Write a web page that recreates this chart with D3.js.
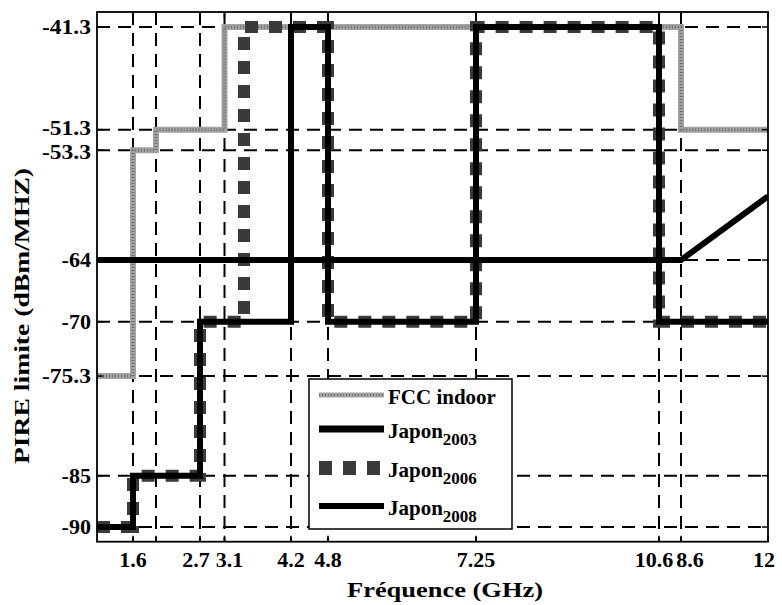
<!DOCTYPE html>
<html><head><meta charset="utf-8">
<script src="https://cdn.jsdelivr.net/npm/d3@7"></script>
<style>body{margin:0;background:#fff}svg{display:block}</style>
</head><body><svg id="c" width="782" height="605"></svg>
<script>
// ---- data ----
const xTickValues = [1.6, 1.99, 2.7, 3.1, 4.2, 4.8, 7.25, 10.6, 10.8, 12];
const xTickLabels = ["1.6", "", "2.7", "3.1", "4.2", "4.8", "7.25", "10.6", "8.6", "12"];
const yTickValues = [-41.3, -51.3, -53.3, -64, -70, -75.3, -85, -90];
const yTickLabels = ["-41.3", "-51.3", "-53.3", "-64", "-70", "-75.3", "-85", "-90"];

const fccFreq  = [1.0, 1.6, 1.6, 1.99, 1.99, 3.1, 3.1, 10.8, 10.8, 12];
const fccLevel = [-75.3, -75.3, -53.3, -53.3, -51.3, -51.3, -41.3, -41.3, -51.3, -51.3];
const jp2003Freq  = [1.0, 10.8, 12];
const jp2003Level = [-64, -64, -57.8];
const jp2006Freq  = [1.0, 1.6, 1.6, 2.7, 2.7, 3.4, 3.4, 4.8, 4.8, 7.25, 7.25, 10.6, 10.6, 12];
const jp2006Level = [-90, -90, -85, -85, -70, -70, -41.3, -41.3, -70, -70, -41.3, -41.3, -70, -70];
const jp2008Freq  = [1.0, 1.6, 1.6, 2.7, 2.7, 4.2, 4.2, 4.8, 4.8, 7.25, 7.25, 10.6, 10.6, 12];
const jp2008Level = [-90, -90, -85, -85, -70, -70, -41.3, -41.3, -70, -70, -41.3, -41.3, -70, -70];
const legendNames = ["FCC indoor", "Japon", "Japon", "Japon"];
const legendSubs  = ["", "2003", "2006", "2008"];

// ---- layout ----
const svg = d3.select("#c");
const L = 97, R = 768, T = 12, B = 541.7;
// hand-drawn (non-uniform) frequency axis: piecewise linear scale
const x = d3.scaleLinear()
  .domain([1.0, 1.6, 1.99, 2.7, 3.1, 3.4, 4.2, 4.8, 7.25, 10.6, 10.8, 12])
  .range([L, 133, 156, 200, 224.5, 244, 291, 328, 476, 659, 681, R]);
const y = d3.scaleLinear().domain([-91.43, -39.84]).range([B, T]);

const FONT = "'Liberation Serif','Times New Roman',serif";

svg.append("defs").append("clipPath").attr("id", "clip")
  .append("rect").attr("x", L).attr("y", T).attr("width", R - L).attr("height", B - T);

// grid
const grid = svg.append("g").attr("stroke", "#000").attr("stroke-width", 2)
  .attr("stroke-dasharray", "13,8").attr("fill", "none");
grid.selectAll("line.h").data(yTickValues).join("line").attr("class", "h")
  .attr("x1", L).attr("x2", R).attr("y1", d => y(d)).attr("y2", d => y(d));
grid.selectAll("line.v").data(xTickValues.filter(v => v < 12)).join("line").attr("class", "v")
  .attr("y1", T).attr("y2", B).attr("x1", d => x(d)).attr("x2", d => x(d));

// series
const zip = (f, v) => f.map((d, i) => ({f: d, v: v[i]}));
const line = d3.line().x(d => x(d.f)).y(d => y(d.v));
const plot = svg.append("g").attr("clip-path", "url(#clip)").attr("fill", "none")
  .attr("stroke-linejoin", "miter");

plot.append("path").datum(zip(fccFreq, fccLevel)).attr("d", line)
  .attr("stroke", "#a3a3a3").attr("stroke-width", 6);
plot.append("path").datum(zip(fccFreq, fccLevel)).attr("d", line)
  .attr("stroke", "#6e6e6e").attr("stroke-width", 3).attr("stroke-dasharray", "1,2");
plot.append("path").datum(zip(jp2006Freq, jp2006Level)).attr("d", line)
  .attr("stroke", "#3a3a3a").attr("stroke-width", 12).attr("stroke-dasharray", "13,11");
plot.append("path").datum(zip(jp2008Freq, jp2008Level)).attr("d", line)
  .attr("stroke", "#000").attr("stroke-width", 6);
plot.append("path").datum(zip(jp2003Freq, jp2003Level)).attr("d", line)
  .attr("stroke", "#000").attr("stroke-width", 6);

// frame + ticks
svg.append("rect").attr("x", L).attr("y", T).attr("width", R - L).attr("height", B - T)
  .attr("fill", "none").attr("stroke", "#000").attr("stroke-width", 1.8);
const tk = svg.append("g").attr("stroke", "#000").attr("stroke-width", 1.5);
xTickValues.forEach(v => {
  tk.append("line").attr("x1", x(v)).attr("x2", x(v)).attr("y1", B).attr("y2", B - 6);
  tk.append("line").attr("x1", x(v)).attr("x2", x(v)).attr("y1", T).attr("y2", T + 6);
});
yTickValues.forEach(v => {
  tk.append("line").attr("x1", L).attr("x2", L + 6).attr("y1", y(v)).attr("y2", y(v));
  tk.append("line").attr("x1", R).attr("x2", R - 6).attr("y1", y(v)).attr("y2", y(v));
});

// tick labels (crowded pairs nudged apart as in the original)
const xLabelNudge = {"2.7": -4, "3.1": 5, "10.6": -5, "8.6": 9, "12": -4};
svg.append("g").selectAll("text").data(xTickValues).join("text")
  .attr("x", d => x(d)).attr("y", 567).attr("text-anchor", "middle")
  .attr("dx", (d, i) => xLabelNudge[xTickLabels[i]] || 0)
  .attr("font-family", FONT).attr("font-weight", "bold").attr("font-size", 22)
  .text((d, i) => xTickLabels[i]);
const yLabelNudge = {"-51.3": -2, "-53.3": 2};
svg.append("g").selectAll("text").data(yTickValues).join("text")
  .attr("x", 91).attr("y", (d, i) => y(d) + (yLabelNudge[yTickLabels[i]] || 0))
  .attr("dy", "0.35em").attr("text-anchor", "end")
  .attr("font-family", FONT).attr("font-weight", "bold").attr("font-size", 20)
  .attr("textLength", (d, i) => yTickLabels[i].length * 9.8).attr("lengthAdjust", "spacingAndGlyphs")
  .text((d, i) => yTickLabels[i]);

// axis titles
svg.append("text").attr("x", 445).attr("y", 597).attr("text-anchor", "middle")
  .attr("font-family", FONT).attr("font-weight", "bold").attr("font-size", 22)
  .attr("textLength", 196).attr("lengthAdjust", "spacingAndGlyphs")
  .text("Fréquence (GHz)");
svg.append("text").attr("transform", "translate(29,316) rotate(-90)").attr("text-anchor", "middle")
  .attr("font-family", FONT).attr("font-weight", "bold").attr("font-size", 22)
  .attr("textLength", 296).attr("lengthAdjust", "spacingAndGlyphs")
  .text("PIRE limite (dBm/MHZ)");

// legend
const lg = svg.append("g");
lg.append("rect").attr("x", 309).attr("y", 379).attr("width", 203).attr("height", 150)
  .attr("fill", "#fff").attr("stroke", "#000").attr("stroke-width", 1.5);
const rowY = [395, 429, 468, 506];
const sampleStyle = [
  {c: "#a3a3a3", w: 5, dash: null},
  {c: "#000", w: 7, dash: null},
  {c: "#3a3a3a", w: 14, dash: "13,11"},
  {c: "#000", w: 6, dash: null}
];
legendNames.forEach((name, i) => {
  const s = sampleStyle[i];
  const ln = lg.append("line").attr("x1", 319).attr("x2", 384).attr("y1", rowY[i]).attr("y2", rowY[i])
    .attr("stroke", s.c).attr("stroke-width", s.w);
  if (s.dash) ln.attr("stroke-dasharray", s.dash);
  if (i === 0) lg.append("line").attr("x1", 319).attr("x2", 384).attr("y1", rowY[i]).attr("y2", rowY[i])
    .attr("stroke", "#6e6e6e").attr("stroke-width", 2).attr("stroke-dasharray", "1,2");
  const t = lg.append("text").attr("x", 388).attr("y", rowY[i] + 9)
    .attr("font-family", FONT).attr("font-weight", "bold").attr("font-size", 21).text(name);
  if (legendSubs[i]) t.append("tspan").attr("dy", 7).attr("font-size", 17).text(legendSubs[i]);
});
</script>
</body></html>
